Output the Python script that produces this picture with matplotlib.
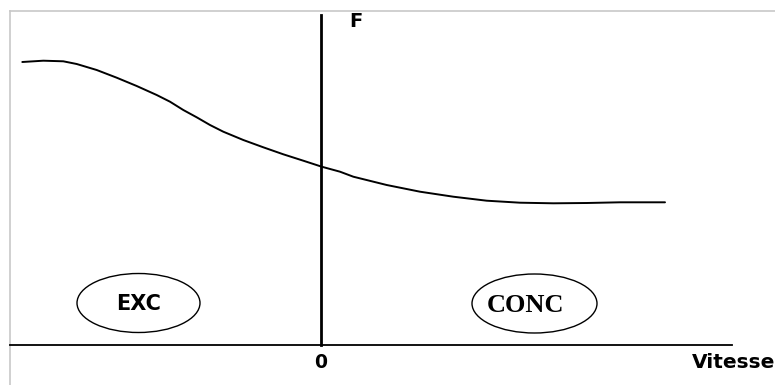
import matplotlib
matplotlib.use("Agg")
import matplotlib.pyplot as plt
from matplotlib.patches import Ellipse

# Force-velocity curve (velocity: negative = eccentric, positive = concentric)
velocity = [-298.7, -277.7, -257.7, -244.3, -224.3, -204.3, -184.3, -164.3,
            -151, -137.7, -124.3, -111, -97.7, -77.7, -57.7, -37.7, -17.7,
            0.7, 19, 32.3, 65.7, 99, 132.3, 165.7, 199, 232.3, 265.7, 299, 344]
force = [283, 284.3, 283.7, 281, 275, 267.3, 259, 250,
         243.3, 235, 227.7, 220, 213.3, 205, 197.7, 190.7, 184.3,
         178.3, 173.3, 168.3, 160, 153.3, 148.3, 144.3, 142.3, 141.7, 142, 142.7, 142.7]

region_labels = ["EXC", "CONC"]
region_centers_v = [-182.5, 213.5]
region_centers_f = [42, 41.5]
axis_labels = {"y": "F", "x": "Vitesse", "origin": "0"}

fig = plt.figure(figsize=(7.75, 3.85), dpi=100)
ax = fig.add_axes([0, 0, 1, 1])
ax.set_xlim(-321, 454)
ax.set_ylim(-40, 345)
ax.axis("off")

# light frame lines (left and top)
ax.plot([-311, -311], [-40, 334], color="#c8c8c8", lw=1.2)
ax.plot([-311, 454], [334, 334], color="#c8c8c8", lw=1.2)

# axes
ax.plot([0, 0], [0, 330], color="black", lw=2.0)
ax.plot([-311, 411], [0, 0], color="black", lw=1.3)

# curve
ax.plot(velocity, force, color="black", lw=1.4, solid_capstyle="round",
        solid_joinstyle="round")

# region ellipses
ax.add_patch(Ellipse((region_centers_v[0], region_centers_f[0]), 123, 59,
                     fill=False, edgecolor="black", lw=1.0))
ax.add_patch(Ellipse((region_centers_v[1], region_centers_f[1]), 125, 59,
                     fill=False, edgecolor="black", lw=1.0))
ax.text(region_centers_v[0], 41, region_labels[0], ha="center", va="center",
        fontsize=15, fontweight="heavy", family="DejaVu Sans")
ax.text(region_centers_v[1] - 9, 40, region_labels[1], ha="center", va="center",
        fontsize=19, fontweight="bold", family="Liberation Serif")

# axis labels
ax.text(35, 323.5, axis_labels["y"], ha="center", va="center",
        fontsize=14, fontweight="heavy", family="DejaVu Sans")
ax.text(0, -18, axis_labels["origin"], ha="center", va="center",
        fontsize=13.5, fontweight="heavy", family="DejaVu Sans")
ax.text(371, -18, axis_labels["x"], ha="left", va="center",
        fontsize=14.5, fontweight="heavy", family="DejaVu Sans")

fig.savefig("out.png", dpi=100, facecolor="white")
